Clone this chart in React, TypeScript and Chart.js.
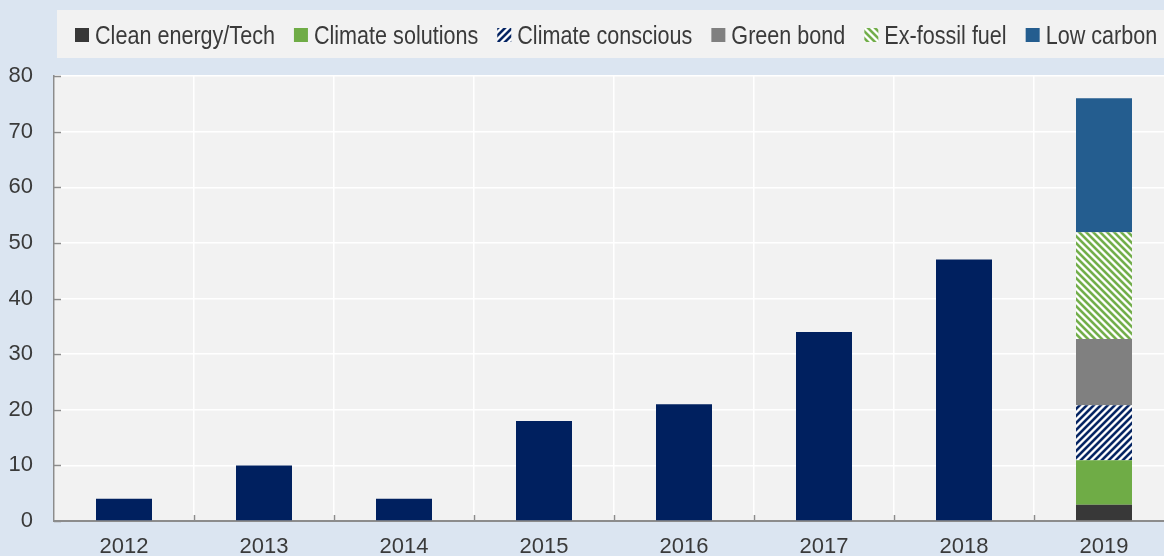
import React, { useEffect, useRef } from 'react';
import { Chart, registerables } from 'chart.js';

Chart.register(...registerables);

const years = ['2012', '2013', '2014', '2015', '2016', '2017', '2018', '2019'];
const climateFundTotals = [4, 10, 4, 18, 21, 34, 47, null];
const cleanEnergyTech = [null, null, null, null, null, null, null, 2.9];
const climateSolutions = [null, null, null, null, null, null, null, 8];
const climateConscious = [null, null, null, null, null, null, null, 9.9];
const greenBond = [null, null, null, null, null, null, null, 11.9];
const exFossilFuel = [null, null, null, null, null, null, null, 19.2];
const lowCarbon = [null, null, null, null, null, null, null, 24.1];
const yMin = 0;
const yMax = 80;
const yStep = 10;

const NAVY = '#00205f';
const GREEN = '#6fac46';
const FONT = '"Liberation Sans", Arial, sans-serif';
const TEXT = '#3a3a3a';
const PAGE_BG = '#dbe5f1';
const PLOT_BG = '#f2f2f2';
const NARROW = 0.83;

function hexToRgb(hex: string): [number, number, number] {
  const h = hex.replace('#', '');
  return [parseInt(h.slice(0, 2), 16), parseInt(h.slice(2, 4), 16), parseInt(h.slice(4, 6), 16)];
}

function stripePattern(ctx: CanvasRenderingContext2D, hex: string, rising: boolean, period = 7): CanvasPattern | string {
  const tile = document.createElement('canvas');
  tile.width = period;
  tile.height = period;
  const tctx = tile.getContext('2d');
  if (!tctx) return hex;
  const img = tctx.createImageData(period, period);
  const [r, g, b] = hexToRgb(hex);
  for (let y = 0; y < period; y++) {
    for (let x = 0; x < period; x++) {
      const k = rising ? x + y : x - y + period * 4;
      const t = (k % period) / period;
      let v = 0.5 + 0.5 * Math.cos(2 * Math.PI * t);
      v = Math.max(0, Math.min(1, (v - 0.5) * 1.4 + 0.5));
      const i = (y * period + x) * 4;
      img.data[i] = Math.round(255 * (1 - v) + r * v);
      img.data[i + 1] = Math.round(255 * (1 - v) + g * v);
      img.data[i + 2] = Math.round(255 * (1 - v) + b * v);
      img.data[i + 3] = 255;
    }
  }
  tctx.putImageData(img, 0, 0);
  return ctx.createPattern(tile, 'repeat') || hex;
}

const backgroundPlugin = {
  id: 'bgPlugin',
  beforeDraw(chart: any) {
    const { ctx, chartArea } = chart;
    ctx.save();
    ctx.fillStyle = PAGE_BG;
    ctx.fillRect(0, 0, chart.width, chart.height);
    ctx.fillStyle = PLOT_BG;
    ctx.fillRect(chartArea.left, chartArea.top, chartArea.right - chartArea.left, chartArea.bottom - chartArea.top);
    // legend panel
    ctx.fillRect(57, 10, chart.width, 48);
    ctx.restore();
  },
  afterDraw(chart: any) {
    const { ctx, chartArea } = chart;
    ctx.save();
    // inner tick marks
    ctx.strokeStyle = '#8c8c8c';
    ctx.lineWidth = 1.5;
    const yScale = chart.scales.y;
    yScale.ticks.forEach((t: any) => {
      const py = Math.round(yScale.getPixelForValue(t.value)) + 0.5;
      ctx.beginPath();
      ctx.moveTo(chartArea.left, py);
      ctx.lineTo(chartArea.left + 7, py);
      ctx.stroke();
    });
    const xScale = chart.scales.x;
    for (let i = 1; i < years.length; i++) {
      const px = Math.round((xScale.getPixelForValue(i - 1) + xScale.getPixelForValue(i)) / 2) + 0.5;
      ctx.beginPath();
      ctx.moveTo(px, chartArea.bottom);
      ctx.lineTo(px, chartArea.bottom - 6);
      ctx.stroke();
    }
    // legend
    ctx.font = '26px ' + FONT;
    ctx.textBaseline = 'alphabetic';
    ctx.textAlign = 'left';
    let x = 75;
    chart.data.datasets.forEach((ds: any, idx: number) => {
      if (idx === 0) return;
      ctx.fillStyle = ds.backgroundColor;
      ctx.fillRect(x, 28, 14, 14);
      ctx.fillStyle = TEXT;
      ctx.save();
      ctx.translate(x + 20, 44);
      ctx.scale(NARROW, 1);
      ctx.fillText(ds.label, 0, 0);
      ctx.restore();
      x += 20 + ctx.measureText(ds.label).width * NARROW + 19;
    });
    ctx.restore();
  },
};

export default function App() {
  const ref = useRef<HTMLCanvasElement>(null);

  useEffect(() => {
    const canvas = ref.current;
    if (!canvas) return;
    const ctx = canvas.getContext('2d');
    if (!ctx) return;
    const consciousPattern = stripePattern(ctx, NAVY, true);
    const exFossilPattern = stripePattern(ctx, GREEN, false);

    const chart = new Chart(canvas, {
      type: 'bar',
      data: {
        labels: years,
        datasets: [
          { label: 'Total', data: climateFundTotals, backgroundColor: NAVY },
          { label: 'Clean energy/Tech', data: cleanEnergyTech, backgroundColor: '#383838' },
          { label: 'Climate solutions', data: climateSolutions, backgroundColor: GREEN },
          { label: 'Climate conscious', data: climateConscious, backgroundColor: consciousPattern as any },
          { label: 'Green bond', data: greenBond, backgroundColor: '#808080' },
          { label: 'Ex-fossil fuel', data: exFossilFuel, backgroundColor: exFossilPattern as any },
          { label: 'Low carbon', data: lowCarbon, backgroundColor: '#245d8f' },
        ],
      },
      options: {
        responsive: false,
        animation: false,
        layout: { padding: { top: 76, right: 6, left: 0, bottom: 0 } },
        datasets: { bar: { categoryPercentage: 1, barPercentage: 0.4, borderWidth: 0 } },
        plugins: { legend: { display: false }, tooltip: { enabled: false } },
        scales: {
          x: {
            stacked: true,
            offset: true,
            grid: { color: '#ffffff', lineWidth: 1.5, offset: true, drawTicks: false },
            border: { color: '#8c8c8c', width: 2 },
            ticks: { color: TEXT, font: { family: FONT, size: 22 }, padding: 13 },
            afterFit(scale: any) { scale.height = 35; },
          },
          y: {
            stacked: true,
            min: yMin,
            max: yMax,
            grid: { color: '#ffffff', lineWidth: 1.5, drawTicks: false },
            border: { color: '#8c8c8c', width: 1.5 },
            ticks: { stepSize: yStep, color: TEXT, font: { family: FONT, size: 22 }, padding: 21 },
            afterFit(scale: any) { scale.width = 54; },
          },
        },
      },
      plugins: [backgroundPlugin],
    });
    return () => chart.destroy();
  }, []);

  return (
    <div style={{ position: 'fixed', left: 0, top: 0, width: 1164, height: 556, overflow: 'hidden', background: PAGE_BG }}>
      <canvas ref={ref} width={1180} height={556} style={{ display: 'block' }} />
    </div>
  );
}
